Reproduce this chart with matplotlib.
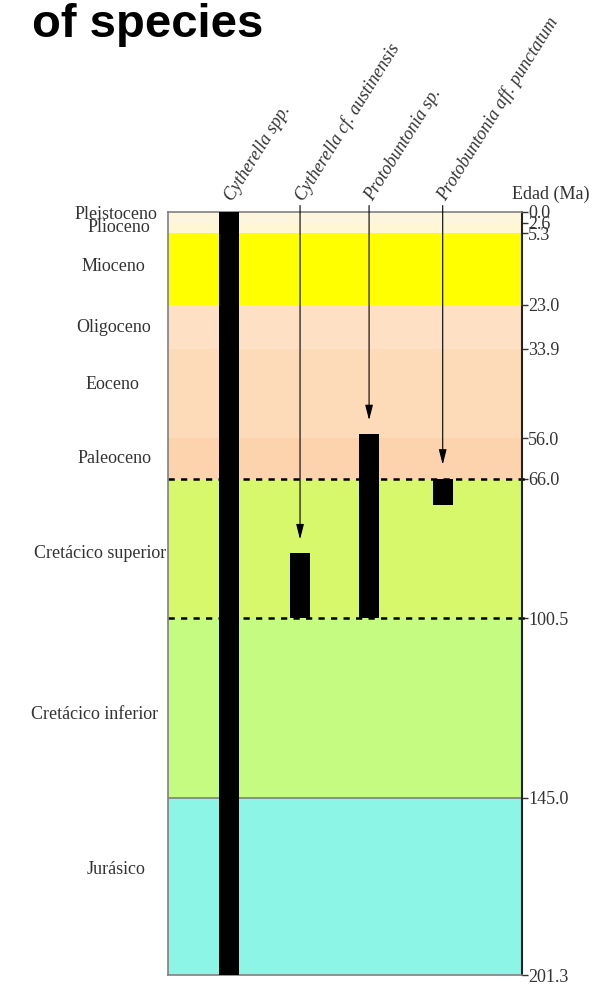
import numpy as np
import matplotlib
matplotlib.use("Agg")
import matplotlib.pyplot as plt

plt.rcParams.update({
    "font.family": "Liberation Serif",
    "font.size": 13,
})

# ----------------------------
# data
# ----------------------------
epoch_names = ["Pleistoceno", "Plioceno", "Mioceno", "Oligoceno", "Eoceno",
               "Paleoceno", "Cretácico superior", "Cretácico inferior", "Jurásico"]
epoch_top = [0.0, 2.6, 5.3, 23.0, 33.9, 56.0, 66.0, 100.5, 145.0]
epoch_base = [2.6, 5.3, 23.0, 33.9, 56.0, 66.0, 100.5, 145.0, 201.3]
epoch_colors = ["#FEF6DC", "#FFF7D4", "#FFFF00", "#FEE1C4", "#FDDAB8",
                "#FCD3AC", "#D8F86C", "#C6FB82", "#8CF5E6"]

tick_ages = [0.0, 2.6, 5.3, 23.0, 33.9, 56.0, 66.0, 100.5, 145.0, 201.3]
tick_labels = ["0.0", "2.6", "5.3", "23.0", "33.9", "56.0", "66.0", "100.5", "145.0", "201.3"]

species = ["Cytherella spp.", "Cytherella cf. austinensis",
           "Protobuntonia sp.", "Protobuntonia aff. punctatum"]
range_young = [0.0, 84.5, 55.0, 66.0]
range_old = [201.3, 100.5, 100.5, 72.5]

boundaries_dashed = [66.0, 100.5]

# ----------------------------
# layout
# ----------------------------
species_x = [0.172, 0.373, 0.568, 0.776]
bar_w = 0.0565
label_y = [0.6, 3.9, 13.6, 28.5, 42.6, 61.0, 84.4, 124.3, 167.6]
label_px = [116, 119, 113, 114, 112.5, 114.5, 100, 95, 116.5]

k_jur = 0.778  # Jurassic drawn compressed


def fwd(v):
    v = np.asarray(v, dtype=float)
    return np.where(v <= 145.0, v, 145.0 + (v - 145.0) * k_jur)


def inv(u):
    u = np.asarray(u, dtype=float)
    return np.where(u <= 145.0, u, 145.0 + (u - 145.0) / k_jur)


fig = plt.figure(figsize=(6.13, 9.84), dpi=100)
ax = fig.add_axes([168 / 613, 1 - 975 / 984, 354 / 613, 763 / 984])
ax.set_yscale("function", functions=(fwd, inv))
ax.set_ylim(201.3, 0.0)
ax.set_xlim(0, 1)

for top, base, c in zip(epoch_top, epoch_base, epoch_colors):
    ax.axhspan(top, base, color=c, lw=0, zorder=0)

for name, y, px in zip(epoch_names, label_y, label_px):
    ax.text((px - 168) / 354, y, name, ha="center", va="center", color="#333333",
            transform=ax.get_yaxis_transform(), clip_on=False)

ax.axhline(145.0, color="#808080", lw=1.2, zorder=1)
for b in boundaries_dashed:
    ax.axhline(b, xmin=0, xmax=1.015, color="black", lw=1.8,
               ls=(0, (2.5, 2.5)), clip_on=False, zorder=2)

ax.bar(species_x, np.array(range_old) - np.array(range_young), bottom=range_young,
       width=bar_w, color="black", zorder=3)

for x, name, young in zip(species_x, species, range_young):
    if young > 0:
        ax.annotate("", xy=(x, young - 3.5), xytext=(x, -1.6),
                    arrowprops=dict(arrowstyle="-|>,head_length=0.7,head_width=0.18",
                                    color="black", lw=0.8, shrinkA=0, shrinkB=0),
                    annotation_clip=False)
    ax.text(x + 0.019, -2.0, name, rotation=58, rotation_mode="anchor",
            ha="left", va="bottom", style="italic", color="#333333", clip_on=False)

ax.text(0.972, -4.3, "Edad (Ma)", ha="left", va="center", color="#333333",
        transform=ax.get_yaxis_transform(), clip_on=False)

ax.yaxis.tick_right()
ax.set_yticks(tick_ages)
ax.set_yticklabels(tick_labels)
ax.yaxis.set_minor_locator(matplotlib.ticker.NullLocator())
ax.tick_params(axis="y", direction="out", length=4, width=1, pad=0.5,
               colors="#333333", labelsize=13)
ax.set_xticks([])

for side in ["left", "top", "bottom"]:
    ax.spines[side].set_color("#808080")
    ax.spines[side].set_linewidth(1.2)
ax.spines["right"].set_color("#222222")
ax.spines["right"].set_linewidth(1.5)

fig.text(32 / 613, 1 - 37 / 984, "of species", fontsize=34, weight="bold",
         family="Liberation Sans", ha="left", va="baseline")

fig.savefig("out.png", dpi=100)
